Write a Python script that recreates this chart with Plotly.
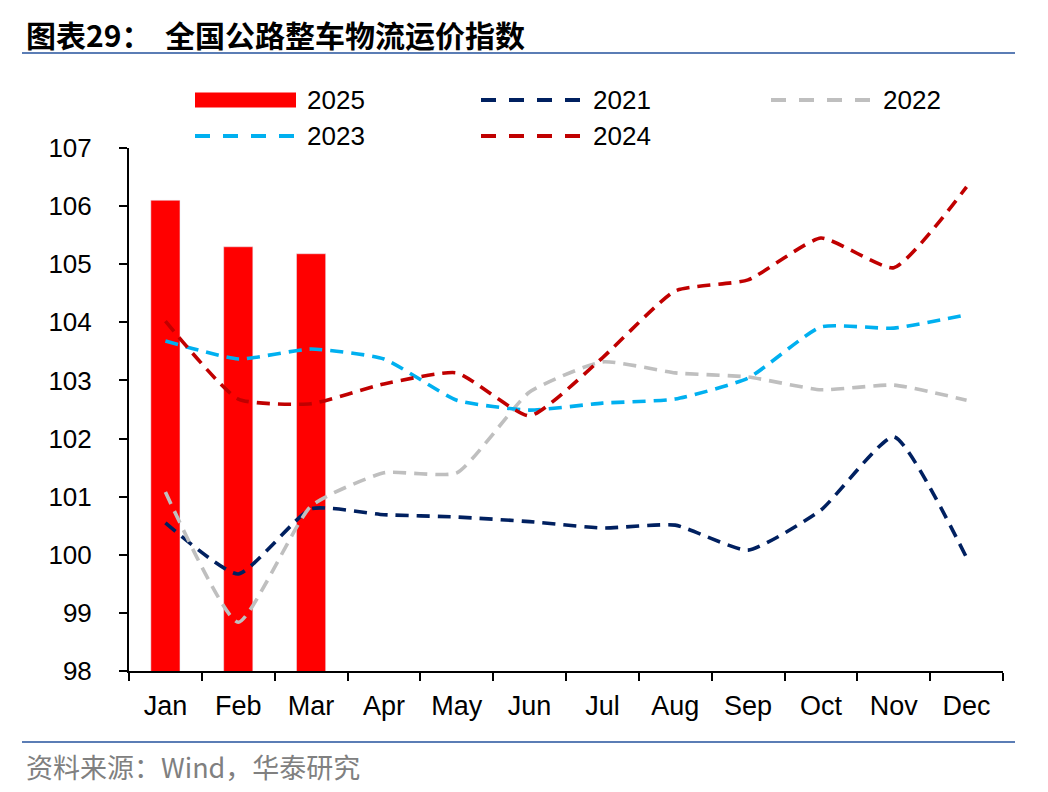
import plotly.graph_objects as go

months = ["Jan", "Feb", "Mar", "Apr", "May", "Jun", "Jul", "Aug", "Sep", "Oct", "Nov", "Dec"]
v2025 = [106.10, 105.30, 105.18]
v2021 = [100.55, 99.67, 100.79, 100.69, 100.65, 100.57, 100.46, 100.51, 100.08, 100.77, 102.03, 99.95]
v2022 = [101.08, 98.84, 100.84, 101.41, 101.41, 102.80, 103.32, 103.13, 103.06, 102.84, 102.92, 102.66]
v2023 = [103.68, 103.37, 103.54, 103.37, 102.66, 102.49, 102.61, 102.68, 103.04, 103.92, 103.90, 104.13]
v2024 = [104.02, 102.68, 102.60, 102.94, 103.13, 102.39, 103.39, 104.54, 104.73, 105.45, 104.94, 106.33]
y_ticks = [98, 99, 100, 101, 102, 103, 104, 105, 106, 107]

W, H = 1048, 792
L, R, T, B = 129, 45, 148, 121
PW, PH = W - L - R, H - T - B

def px(x):
    return (x - L) / PW

def py(y):
    return (H - B - y) / PH

FONT = "Liberation Sans, Arial, sans-serif"
BAR_COLOR = "#FF0000"
DASH = "13px,8px"
FS = 26

fig = go.Figure()
fig.add_trace(go.Bar(x=months[:3], y=v2025, name="2025", marker_color=BAR_COLOR,
                     width=0.4, base=0, showlegend=False))
line_specs = [("2021", v2021, "#002060"), ("2022", v2022, "#BFBFBF"),
              ("2023", v2023, "#00B0F0"), ("2024", v2024, "#C00000")]
for name, vals, col in line_specs:
    fig.add_trace(go.Scatter(x=months, y=vals, name=name, mode="lines", showlegend=False,
                             line=dict(color=col, width=3.6, dash=DASH,
                                       shape="spline", smoothing=0.5)))

fig.update_layout(
    width=W, height=H, margin=dict(l=L, r=R, t=T, b=B),
    plot_bgcolor="white", paper_bgcolor="white",
    font=dict(family=FONT, size=FS, color="black"),
    showlegend=False,
)
fig.update_xaxes(categoryorder="array", categoryarray=months, range=[-0.5, 11.5],
                 showline=True, linecolor="black", linewidth=2,
                 ticks="outside", ticklen=8, tickwidth=2, tickcolor="black",
                 tickson="boundaries", showgrid=False, ticklabelstandoff=10,
                 tickfont=dict(size=27, family=FONT))
fig.update_yaxes(range=[98, 107], tickvals=y_ticks, showline=True, linecolor="black",
                 linewidth=2, ticks="outside", ticklen=8, tickwidth=2,
                 tickcolor="black", showgrid=False, zeroline=False,
                 ticklabelstandoff=22,
                 tickfont=dict(size=FS, family=FONT))

# custom legend (wide symbols like the original)
legend_items = [("2025", "bar", BAR_COLOR, 195, 100),
                ("2021", "line", "#002060", 481, 100),
                ("2022", "line", "#BFBFBF", 771, 100),
                ("2023", "line", "#00B0F0", 195, 136),
                ("2024", "line", "#C00000", 481, 136)]
for name, kind, col, x0, yc in legend_items:
    if kind == "bar":
        fig.add_shape(type="rect", xref="paper", yref="paper",
                      x0=px(x0), x1=px(x0 + 101), y0=py(yc - 7.5), y1=py(yc + 7.5),
                      fillcolor=col, line=dict(width=0))
    else:
        fig.add_shape(type="line", xref="paper", yref="paper",
                      x0=px(x0), x1=px(x0 + 100), y0=py(yc), y1=py(yc),
                      line=dict(color=col, width=4, dash="15px,13px"))
    fig.add_annotation(text=name, xref="paper", yref="paper", x=px(x0 + 110), y=py(yc),
                       xanchor="left", yanchor="middle", showarrow=False,
                       font=dict(size=FS, family=FONT, color="black"))

fig.add_annotation(text="<b>图表29：  全国公路整车物流运价指数</b>", xref="paper", yref="paper",
                   x=px(24), y=py(34), xanchor="left", yanchor="middle", showarrow=False,
                   font=dict(size=30, family="Noto Sans CJK SC", color="black"))
fig.add_annotation(text="资料来源：Wind，华泰研究", xref="paper", yref="paper",
                   x=px(24), y=py(766), xanchor="left", yanchor="middle", showarrow=False,
                   font=dict(size=27, family="Noto Sans CJK SC", color="#808080"))
for yy in (53, 742):
    fig.add_shape(type="line", xref="paper", yref="paper", x0=px(22), x1=px(1015),
                  y0=py(yy), y1=py(yy), line=dict(color="#5B7DB5", width=2))

fig.write_html("out.html")
